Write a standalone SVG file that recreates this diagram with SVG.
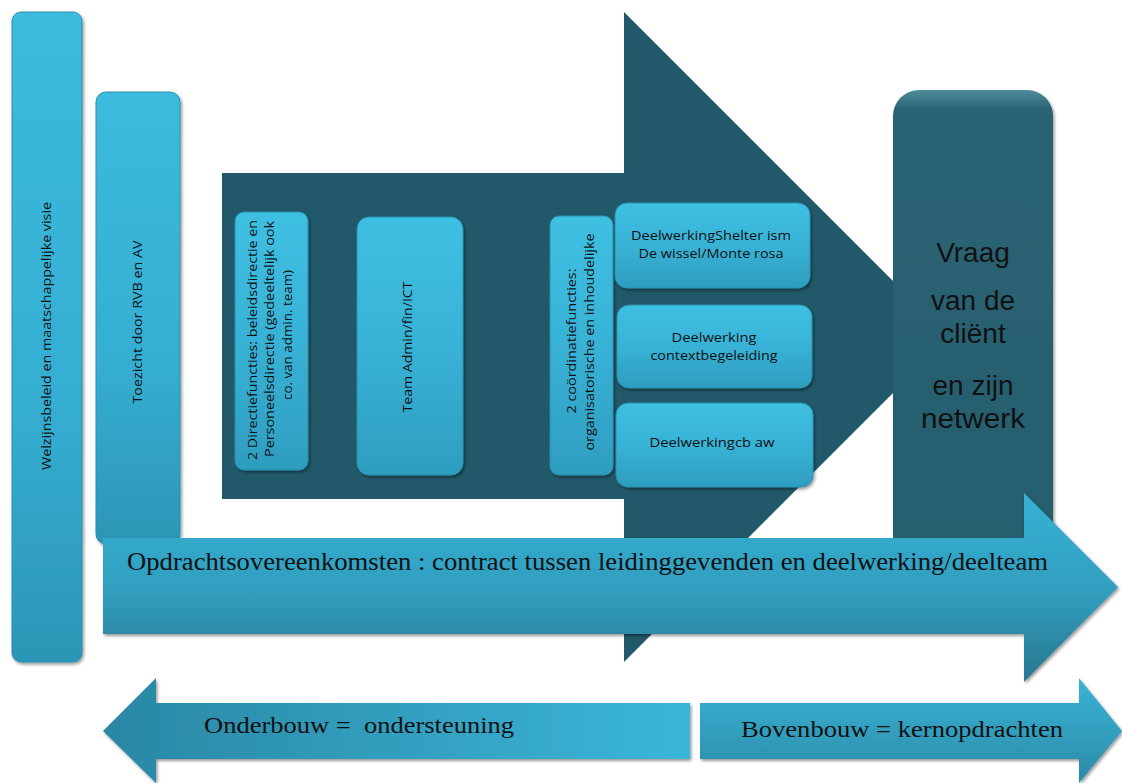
<svg xmlns="http://www.w3.org/2000/svg" width="1122" height="783" viewBox="0 0 1122 783">
  <defs>
    <linearGradient id="gBox" x1="0" y1="0" x2="0" y2="1">
      <stop offset="0" stop-color="#3ec0e2"/>
      <stop offset="0.5" stop-color="#38b2d6"/>
      <stop offset="1" stop-color="#2e9dbf"/>
    </linearGradient>
    <linearGradient id="gTall" x1="0" y1="0" x2="0" y2="1">
      <stop offset="0" stop-color="#3bbbdd"/>
      <stop offset="0.6" stop-color="#35aed2"/>
      <stop offset="1" stop-color="#2c95b6"/>
    </linearGradient>
    <linearGradient id="gOpdracht" x1="0" y1="0" x2="0" y2="1">
      <stop offset="0" stop-color="#37b2d5"/>
      <stop offset="0.5" stop-color="#319fc0"/>
      <stop offset="1" stop-color="#29778f"/>
    </linearGradient>
    <linearGradient id="gLeft" x1="0" y1="0" x2="1" y2="0">
      <stop offset="0" stop-color="#2a87a4"/>
      <stop offset="1" stop-color="#3bb6d9"/>
    </linearGradient>
    <linearGradient id="gRight" x1="0" y1="0" x2="0" y2="1">
      <stop offset="0" stop-color="#3ab3d6"/>
      <stop offset="1" stop-color="#2b8aa7"/>
    </linearGradient>
    <linearGradient id="gVraag" x1="0" y1="0" x2="0" y2="1">
      <stop offset="0" stop-color="#4f8d9b"/>
      <stop offset="0.035" stop-color="#2a6474"/>
      <stop offset="1" stop-color="#265d6d"/>
    </linearGradient>
    <filter id="sh" x="-10%" y="-10%" width="130%" height="130%">
      <feDropShadow dx="1.5" dy="2" stdDeviation="1.5" flood-color="#000" flood-opacity="0.4"/>
    </filter>
  </defs>
  <style>
    .box { fill: url(#gBox); stroke: #2a8fae; stroke-width: 1; filter: url(#sh); }
    .tall { fill: url(#gTall); stroke: #2a8fae; stroke-width: 1; filter: url(#sh); }
    .lbl { font-family: "Open Sans", "Liberation Sans", sans-serif; font-size: 12px; fill: #111; text-anchor: middle; }
    .big { font-family: "Liberation Sans", Arial, sans-serif; font-size: 28px; fill: #111; text-anchor: middle; }
    .serif { font-family: "Liberation Serif", "Times New Roman", serif; fill: #111; white-space: pre; }
  </style>

  <g id="welzijn">
    <rect class="tall" x="12" y="12" width="70" height="650" rx="9"/>
    <text class="lbl" transform="translate(51,336) rotate(-90)" textLength="268" lengthAdjust="spacingAndGlyphs">Welzijnsbeleid en maatschappelijke visie</text>
  </g>

  <g id="toezicht">
    <rect class="tall" x="96" y="92" width="84" height="452" rx="10"/>
    <text class="lbl" font-size="13" transform="translate(142,322) rotate(-90)" textLength="163" lengthAdjust="spacingAndGlyphs">Toezicht door RVB en AV</text>
  </g>

  <g id="kernarrow">
    <polygon points="222,173 624,173 624,12 949,337 624,662 624,499 222,499" fill="#22596a"/>
  </g>

  <g id="vraag">
    <rect x="893" y="90" width="160" height="520" rx="26" fill="url(#gVraag)" filter="url(#sh)"/>
    <text class="big" x="973" y="262">Vraag</text>
    <text class="big" x="973" y="310">van de</text>
    <text class="big" x="973" y="343">cliënt</text>
    <text class="big" x="973" y="395">en zijn</text>
    <text class="big" x="973" y="428" textLength="104" lengthAdjust="spacingAndGlyphs">netwerk</text>
  </g>

  <g id="directie">
    <rect class="box" x="235" y="212" width="73" height="258" rx="9"/>
    <text class="lbl" transform="translate(257,340) rotate(-90)" textLength="240" lengthAdjust="spacingAndGlyphs">2 Directiefuncties: beleidsdirectie en</text>
    <text class="lbl" transform="translate(274,339) rotate(-90)" textLength="236" lengthAdjust="spacingAndGlyphs">Personeelsdirectie (gedeeltelijk ook</text>
    <text class="lbl" transform="translate(292,335) rotate(-90)" textLength="130" lengthAdjust="spacingAndGlyphs">co. van admin. team)</text>
  </g>

  <g id="admin">
    <rect class="box" x="357" y="217" width="106" height="258" rx="12"/>
    <text class="lbl" font-size="13" transform="translate(412,347) rotate(-90)" textLength="131" lengthAdjust="spacingAndGlyphs">Team Admin/fin/ICT</text>
  </g>

  <g id="coordinatie">
    <rect class="box" x="550" y="216" width="63" height="259" rx="9"/>
    <text class="lbl" transform="translate(576,341) rotate(-90)" textLength="145" lengthAdjust="spacingAndGlyphs">2 coördinatiefuncties:</text>
    <text class="lbl" transform="translate(594,342) rotate(-90)" textLength="217" lengthAdjust="spacingAndGlyphs">organisatorische en inhoudelijke</text>
  </g>

  <g id="dw-shelter">
    <rect class="box" x="615" y="203" width="195" height="85" rx="12"/>
    <text class="lbl" x="711" y="240" textLength="160" lengthAdjust="spacingAndGlyphs">DeelwerkingShelter ism</text>
    <text class="lbl" x="711" y="258" textLength="145" lengthAdjust="spacingAndGlyphs">De wissel/Monte rosa</text>
  </g>

  <g id="dw-context">
    <rect class="box" x="617" y="305" width="195" height="83" rx="12"/>
    <text class="lbl" x="714" y="342" textLength="85" lengthAdjust="spacingAndGlyphs">Deelwerking</text>
    <text class="lbl" x="714" y="360" textLength="127" lengthAdjust="spacingAndGlyphs">contextbegeleiding</text>
  </g>

  <g id="dw-cbaw">
    <rect class="box" x="616" y="403" width="197" height="84" rx="12"/>
    <text class="lbl" x="712" y="447" textLength="125" lengthAdjust="spacingAndGlyphs">Deelwerkingcb aw</text>
  </g>

  <g id="opdracht">
    <polygon points="103,538 1024,538 1024,493 1118,587 1024,682 1024,634 103,634" fill="url(#gOpdracht)" filter="url(#sh)"/>
    <text class="serif" x="127" y="570" font-size="25" textLength="921" lengthAdjust="spacingAndGlyphs">Opdrachtsovereenkomsten : contract tussen leidinggevenden en deelwerking/deelteam</text>
  </g>

  <g id="onderbouw">
    <polygon points="103,731 156,678 156,703 690,703 690,759 156,759 156,783 103,731" fill="url(#gLeft)" filter="url(#sh)"/>
    <text class="serif" x="204" y="733" font-size="24" textLength="310" lengthAdjust="spacingAndGlyphs" xml:space="preserve">Onderbouw =  ondersteuning</text>
  </g>

  <g id="bovenbouw">
    <polygon points="700,703 1079,703 1079,678 1122,731 1079,783 1079,759 700,759" fill="url(#gRight)" filter="url(#sh)"/>
    <text class="serif" x="741" y="737" font-size="24" textLength="322" lengthAdjust="spacingAndGlyphs">Bovenbouw = kernopdrachten</text>
  </g>

  <g id="connectors"/>
</svg>
